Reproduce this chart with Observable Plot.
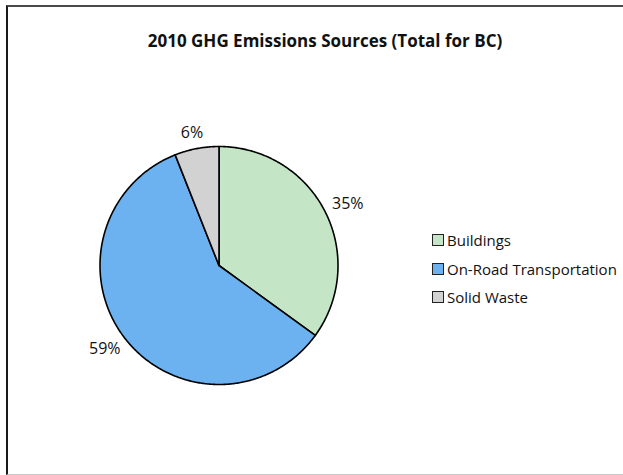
<!DOCTYPE html>
<html>
<head>
<meta charset="utf-8">
<script src="https://cdn.jsdelivr.net/npm/d3@7"></script>
<script src="https://cdn.jsdelivr.net/npm/@observablehq/plot@0.6"></script>
<style>
  html, body { margin: 0; padding: 0; background: #fff; }
  body { width: 623px; height: 475px; position: relative; overflow: hidden; font-family: "Open Sans", sans-serif; }
  #frame { position: absolute; left: 6px; top: 5px; width: 640px; height: 467px;
           border-top: 2px solid #4a4a4a; border-left: 2px solid #1a1a1a; border-bottom: 1px solid #c8c8c8; }
  #title { position: absolute; left: 0; width: 650px; top: 29px; text-align: center;
           font-weight: bold; font-size: 17px; color: #111; white-space: nowrap; }
  #chart { position: absolute; left: 0; top: 0; }
  #legend { position: absolute; left: 432px; top: 226px; font-size: 15px; color: #111; }
  .row { display: flex; align-items: center; height: 28.5px; }
  .sw { width: 12px; height: 12px; border: 1px solid #222; margin-right: 3px; box-sizing: border-box; }
</style>
</head>
<body>
<div id="frame"></div>
<div id="title">2010 GHG Emissions Sources (Total for BC)</div>
<div id="chart"></div>
<div id="legend"></div>
<script>
// Emission sources and their shares of the 2010 total
const categories = ["Buildings", "On-Road Transportation", "Solid Waste"];
const shares = [35, 59, 6];
const colors = ["#c4e6c6", "#6cb2f0", "#d2d2d2"];

const arcs = d3.pie().sort(null).value(d => d)(shares);

// Outline of each slice: centre, then points along its arc (angle 0 at 12 o'clock, clockwise)
const slicePoints = [];
arcs.forEach((a, i) => {
  const steps = Math.max(8, Math.ceil((a.endAngle - a.startAngle) / 0.01));
  slicePoints.push({cat: categories[i], x: 0, y: 0});
  for (let k = 0; k <= steps; k++) {
    const t = a.startAngle + (a.endAngle - a.startAngle) * k / steps;
    slicePoints.push({cat: categories[i], x: Math.sin(t), y: Math.cos(t)});
  }
  slicePoints.push({cat: categories[i], x: 0, y: 0});
});

// Percentage labels sit just outside the rim, pushed out by half the label box
const labels = arcs.map((a, i) => {
  const m = (a.startAngle + a.endAngle) / 2;
  const s = Math.sin(m), c = Math.cos(m);
  return {
    text: shares[i] + "%",
    x: 1.08 * s + (16 / 119) * s,
    y: 1.08 * c + (7 / 119) * c
  };
});

const plot = Plot.plot({
  width: 623,
  height: 475,
  marginLeft: 99.5,
  marginRight: 623 - 337.5,
  marginTop: 146,
  marginBottom: 475 - 384,
  x: {domain: [-1, 1], axis: null},
  y: {domain: [-1, 1], axis: null},
  color: {domain: categories, range: colors},
  style: {background: "transparent", overflow: "visible"},
  marks: [
    Plot.line(slicePoints, {x: "x", y: "y", z: "cat", fill: "cat", stroke: "#000",
                            strokeWidth: 1.6, strokeLinejoin: "round", curve: "linear"}),
    Plot.text(labels, {x: "x", y: "y", text: "text", fontSize: 16,
                       fontFamily: "Open Sans", fill: "#111", textAnchor: "middle"})
  ]
});
document.getElementById("chart").appendChild(plot);

const legend = d3.select("#legend");
categories.forEach((c, i) => {
  const row = legend.append("div").attr("class", "row");
  row.append("div").attr("class", "sw").style("background", colors[i]);
  row.append("span").text(c);
});
</script>
</body>
</html>
